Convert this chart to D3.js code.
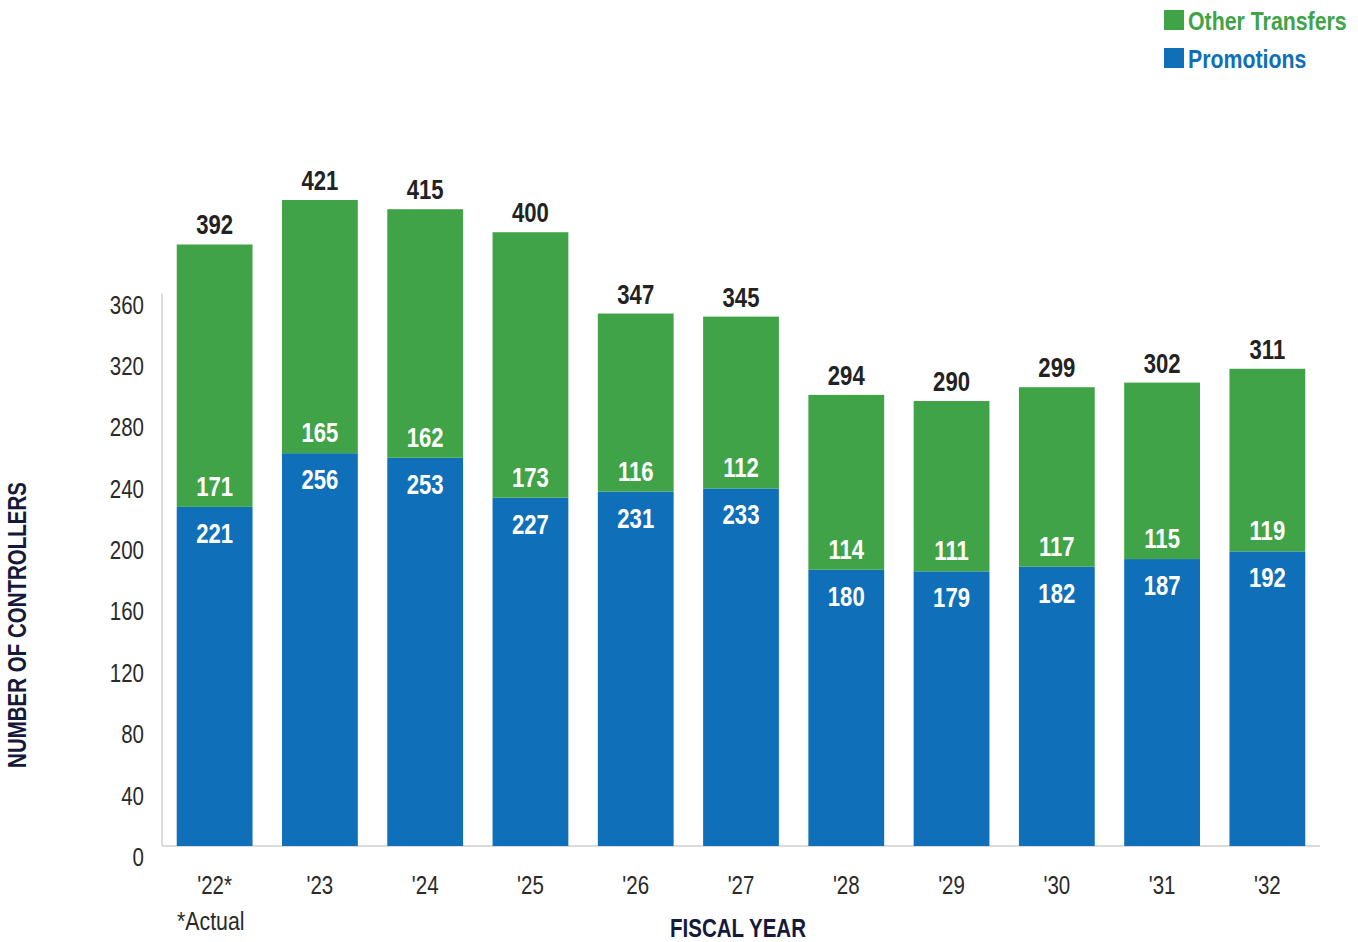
<!DOCTYPE html>
<html>
<head>
<meta charset="utf-8">
<script src="https://cdn.jsdelivr.net/npm/d3@7"></script>
<style>
  html, body { margin: 0; padding: 0; background: #ffffff; }
  svg { display: block; font-family: "Liberation Sans", Arial, sans-serif; }
</style>
</head>
<body>
<svg id="chart" width="1358" height="942"></svg>
<script>
// Fiscal years and controller counts
const years = ["'22*", "'23", "'24", "'25", "'26", "'27", "'28", "'29", "'30", "'31", "'32"];
const promotions = [221, 256, 253, 227, 231, 233, 180, 179, 182, 187, 192];
const otherTransfers = [171, 165, 162, 173, 116, 112, 114, 111, 117, 115, 119];
const totals = [392, 421, 415, 400, 347, 345, 294, 290, 299, 302, 311];
const yTicks = [0, 40, 80, 120, 160, 200, 240, 280, 320, 360];
const seriesNames = ["Other Transfers", "Promotions"];

const GREEN = "#41a347";
const BLUE = "#0f6fb8";
const NAVY = "#151a3a";
const NARROW = 0.82; // horizontal squeeze for a condensed look

const svg = d3.select("#chart");

// Place condensed text at (x, y)
function condensed(sel, x, y) {
  return sel.attr("transform", (d, i) => {
    const px = typeof x === "function" ? x(d, i) : x;
    const py = typeof y === "function" ? y(d, i) : y;
    return `translate(${px},${py}) scale(${NARROW},1)`;
  });
}

const x = d3.scaleBand()
  .domain(years)
  .range([162, 1320])
  .paddingInner(0.28)
  .paddingOuter(0.14);

const y = d3.scaleLinear()
  .domain([0, 360])
  .range([846, 293.6]);

// Axis lines
svg.append("line")
  .attr("x1", 162).attr("x2", 162)
  .attr("y1", y(360)).attr("y2", y(0))
  .attr("stroke", "#cfcfcf").attr("stroke-width", 1.5);
svg.append("line")
  .attr("x1", 162).attr("x2", 1320)
  .attr("y1", y(0)).attr("y2", y(0))
  .attr("stroke", "#cfcfcf").attr("stroke-width", 1.5);

// Y tick labels
svg.append("g").selectAll("text")
  .data(yTicks)
  .join("text")
  .call(condensed, 144, d => y(d) + 20)
  .attr("text-anchor", "end")
  .attr("font-size", 25)
  .attr("fill", "#2a2a2a")
  .text(d => d);

const rows = years.map((yr, i) => ({
  yr, p: promotions[i], o: otherTransfers[i], t: totals[i]
}));

// Promotions (bottom segment)
svg.append("g").selectAll("rect")
  .data(rows)
  .join("rect")
  .attr("x", d => x(d.yr))
  .attr("width", x.bandwidth())
  .attr("y", d => y(d.p))
  .attr("height", d => y(0) - y(d.p))
  .attr("fill", BLUE);

// Other transfers (stacked on top)
svg.append("g").selectAll("rect")
  .data(rows)
  .join("rect")
  .attr("x", d => x(d.yr))
  .attr("width", x.bandwidth())
  .attr("y", d => y(d.p + d.o))
  .attr("height", d => y(d.p) - y(d.p + d.o))
  .attr("fill", GREEN);

const cx = d => x(d.yr) + x.bandwidth() / 2;

// Segment and total value labels
const labels = svg.append("g")
  .attr("font-weight", "bold")
  .attr("font-size", 27)
  .attr("text-anchor", "middle");

labels.selectAll("text.p")
  .data(rows)
  .join("text")
  .attr("class", "p")
  .call(condensed, cx, d => y(d.p) + 36)
  .attr("fill", "#ffffff")
  .text(d => d.p);

labels.selectAll("text.o")
  .data(rows)
  .join("text")
  .attr("class", "o")
  .call(condensed, cx, d => y(d.p) - 11)
  .attr("fill", "#ffffff")
  .text(d => d.o);

labels.selectAll("text.t")
  .data(rows)
  .join("text")
  .attr("class", "t")
  .call(condensed, cx, d => y(d.p + d.o) - 10)
  .attr("fill", "#222222")
  .text(d => d.t);

// X tick labels
svg.append("g").selectAll("text")
  .data(years)
  .join("text")
  .call(condensed, d => x(d) + x.bandwidth() / 2, 894)
  .attr("text-anchor", "middle")
  .attr("font-size", 25)
  .attr("fill", "#2a2a2a")
  .text(d => d);

svg.append("text")
  .call(condensed, 177, 930)
  .attr("font-size", 26)
  .attr("fill", "#2a2a2a")
  .text("*Actual");

// Axis titles
svg.append("text")
  .call(condensed, 738, 937)
  .attr("text-anchor", "middle")
  .attr("font-size", 25)
  .attr("font-weight", "bold")
  .attr("fill", NAVY)
  .text("FISCAL YEAR");

svg.append("text")
  .attr("transform", `translate(26,625) rotate(-90) scale(${NARROW},1)`)
  .attr("text-anchor", "middle")
  .attr("font-size", 25)
  .attr("font-weight", "bold")
  .attr("fill", NAVY)
  .text("NUMBER OF CONTROLLERS");

// Legend
const legendColors = [GREEN, BLUE];
const legend = svg.append("g").selectAll("g")
  .data(seriesNames)
  .join("g")
  .attr("transform", (d, i) => `translate(1164,${10 + i * 38})`);
legend.append("rect")
  .attr("width", 20).attr("height", 20)
  .attr("fill", (d, i) => legendColors[i]);
legend.append("text")
  .call(condensed, 24, 20)
  .attr("font-size", 26)
  .attr("font-weight", "bold")
  .attr("fill", (d, i) => legendColors[i])
  .text(d => d);
</script>
</body>
</html>
